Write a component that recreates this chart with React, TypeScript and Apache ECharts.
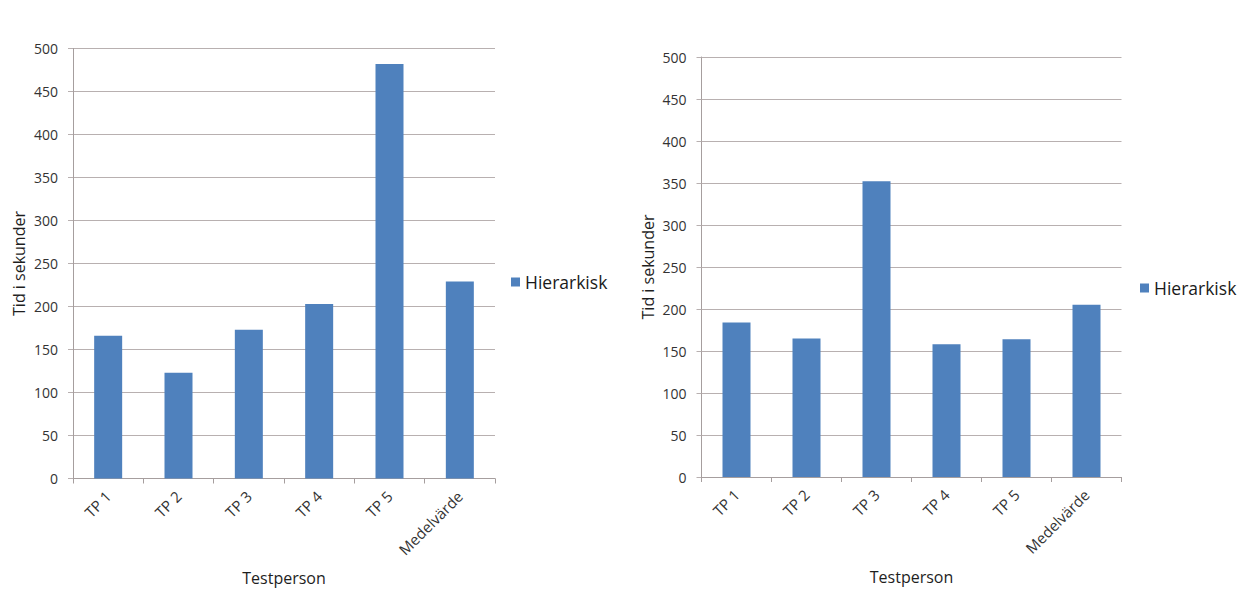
import React, { useEffect, useRef } from "react";
import * as echarts from "echarts";

const categories = ["TP 1", "TP 2", "TP 3", "TP 4", "TP 5", "Medelvärde"];
const leftValues = [166, 123, 173, 203, 482, 229];
const rightValues = [184, 165, 352, 158, 164, 205];
const seriesName = "Hierarkisk";
const yAxisName = "Tid i sekunder";
const xAxisName = "Testperson";

const FONT = "'Open Sans', 'Noto Sans', sans-serif";
const GRID_COLOR = "#b8b0b0";
const AXIS_COLOR = "#a69e9e";
const BAR_COLOR = "#4f81bd";
const TEXT_COLOR = "#333333";

function makeX(gridIndex: number, gap: number) {
  return {
    type: "category" as const,
    gridIndex,
    data: categories,
    boundaryGap: true,
    name: xAxisName,
    nameLocation: "middle" as const,
    nameGap: gap,
    nameTextStyle: { fontFamily: FONT, fontSize: 16, color: "#1e1e1e" },
    axisLine: { show: true, lineStyle: { color: AXIS_COLOR, width: 1 } },
    axisTick: { show: true, length: 5, alignWithLabel: false, lineStyle: { color: AXIS_COLOR } },
    axisLabel: {
      rotate: 45,
      interval: 0,
      margin: 15,
      fontFamily: FONT,
      fontSize: 15,
      color: TEXT_COLOR,
    },
    splitLine: { show: false },
  };
}

function makeY(gridIndex: number, gap: number) {
  return {
    type: "value" as const,
    gridIndex,
    min: 0,
    max: 500,
    interval: 50,
    name: yAxisName,
    nameLocation: "middle" as const,
    nameGap: gap,
    nameTextStyle: { fontFamily: FONT, fontSize: 16, color: "#1e1e1e" },
    axisLine: { show: true, lineStyle: { color: AXIS_COLOR, width: 1 } },
    axisTick: { show: true, length: 5, lineStyle: { color: GRID_COLOR } },
    axisLabel: { margin: 15, fontFamily: FONT, fontSize: 14, color: TEXT_COLOR },
    splitLine: { show: true, lineStyle: { color: GRID_COLOR, width: 1 } },
  };
}

export default function App() {
  const ref = useRef<HTMLDivElement>(null);
  useEffect(() => {
    document.body.style.margin = "0";
    if (!ref.current) return;
    const chart = echarts.init(ref.current, undefined, { renderer: "svg" });
    chart.setOption({
      animation: false,
      backgroundColor: "#ffffff",
      grid: [
        { left: 73, top: 48.5, width: 422, height: 430, containLabel: false },
        { left: 701.5, top: 57, width: 420, height: 420, containLabel: false },
      ],
      xAxis: [makeX(0, 91), makeX(1, 92)],
      yAxis: [makeY(0, 46), makeY(1, 46)],
      legend: [
        {
          left: 506,
          top: 268,
          data: [seriesName],
          icon: "rect",
          itemWidth: 9,
          itemHeight: 9,
          itemGap: 6,
          selectedMode: false,
          textStyle: { fontFamily: FONT, fontSize: 17.5, color: "#1a1a1a" },
        },
        {
          left: 1135,
          top: 274,
          data: [seriesName],
          icon: "rect",
          itemWidth: 9,
          itemHeight: 9,
          itemGap: 6,
          selectedMode: false,
          textStyle: { fontFamily: FONT, fontSize: 17.5, color: "#1a1a1a" },
        },
      ],
      series: [
        {
          name: seriesName,
          type: "bar",
          xAxisIndex: 0,
          yAxisIndex: 0,
          data: leftValues,
          barWidth: 28,
          itemStyle: { color: BAR_COLOR },
        },
        {
          name: seriesName,
          type: "bar",
          xAxisIndex: 1,
          yAxisIndex: 1,
          data: rightValues,
          barWidth: 28,
          itemStyle: { color: BAR_COLOR },
        },
      ],
    });
    return () => chart.dispose();
  }, []);
  return <div ref={ref} style={{ width: 1252, height: 595 }} />;
}
